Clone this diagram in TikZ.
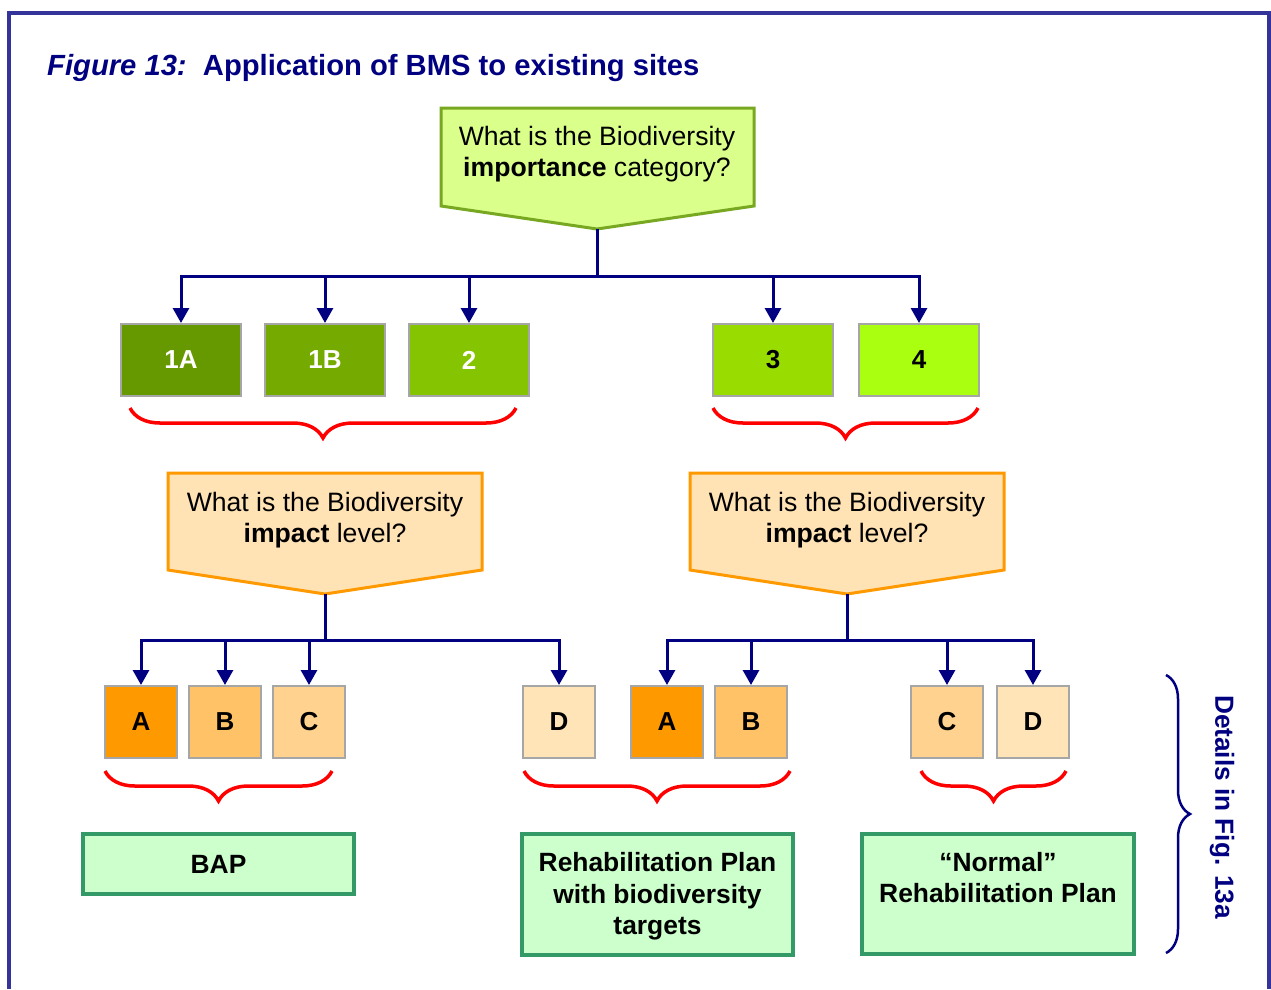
\documentclass[tikz,border=0pt]{standalone}
\usepackage{fontspec}
\setmainfont{Liberation Sans}
\usetikzlibrary{arrows.meta,decorations.pathreplacing}
\definecolor{framec}{HTML}{333399}
\definecolor{navyc}{HTML}{000080}
\definecolor{boxgray}{HTML}{A6A6A6}
\definecolor{c1a}{HTML}{669900}
\definecolor{c1b}{HTML}{75AA00}
\definecolor{c2}{HTML}{84C400}
\definecolor{c3}{HTML}{99DD00}
\definecolor{c4}{HTML}{AAFF11}
\definecolor{oa}{HTML}{FF9900}
\definecolor{ob}{HTML}{FFC266}
\definecolor{oc}{HTML}{FFD38F}
\definecolor{od}{HTML}{FFE4B8}
\definecolor{limefill}{HTML}{DAFF8A}
\definecolor{limedraw}{HTML}{78A822}
\definecolor{orfill}{HTML}{FFE3B5}
\definecolor{ordraw}{HTML}{FF9900}
\definecolor{planfill}{HTML}{CCFFCC}
\definecolor{plandraw}{HTML}{339966}
\begin{document}
\begin{tikzpicture}[x=1pt,y=-1pt,
  txt/.style={font=\fontsize{26.6}{31}\selectfont},
  cat/.style={draw=boxgray, line width=2pt, minimum width=120pt, minimum height=72pt, inner sep=0pt, font=\fontsize{26}{31}\selectfont\bfseries},
  lvl/.style={cat, minimum width=72pt},
  plan/.style={draw=plandraw, fill=planfill, line width=3.5pt, minimum width=271pt, inner sep=0pt},
  plantext/.style={inner sep=0pt, align=center, font=\fontsize{26.4}{31.5}\selectfont\bfseries},
  conn/.style={draw=navyc, line width=3pt},
  arr/.style={conn, -{Triangle[width=16pt,length=15pt]}},
  rbrace/.style={draw=red, line width=3.5pt, decorate, decoration={brace, amplitude=30pt, mirror}},
  ask/.style={txt, align=center, inner sep=0pt}
]
\useasboundingbox (0,0) rectangle (1271,989);
% frame
\draw[framec, line width=4pt] (9,989) -- (9,13) -- (1269,13) -- (1269,989);
% title
\node[anchor=base west, inner sep=0pt, text=navyc, font=\fontsize{29.2}{34}\selectfont\bfseries] (title) at (47,75) {\textit{Figure 13:}\ \ Application of BMS to existing sites};

% top question
\draw[draw=limedraw, fill=limefill, line width=3pt, line join=miter] (441,108) -- (754,108) -- (754,206) -- (597,229) -- (441,206) -- cycle;
\coordinate (q1tip) at (597,229);
\node[ask] (q1) at (597,154) {What is the Biodiversity\\\textbf{importance} category?};

% categories
\node[cat, fill=c1a, text=white] (k1A) at (181,360) {1A};
\node[cat, fill=c1b, text=white] (k1B) at (325,360) {1B};
\node[cat, fill=c2, text=white] (k2) at (469,360) {2};
\node[cat, fill=c3] (k3) at (773,360) {3};
\node[cat, fill=c4] (k4) at (919,360) {4};

\coordinate (bus1) at (597,276);
\draw[conn] (q1tip) -- (bus1);
\foreach \n in {k1A,k1B,k2,k3,k4} \draw[arr] (bus1) -| (\n.north);

% red braces top
\draw[rbrace] (130,408) -- (516,408);
\draw[rbrace] (713,408) -- (978,408);

% impact questions
\draw[draw=ordraw, fill=orfill, line width=3pt] (168,473) -- (482,473) -- (482,570) -- (325,594) -- (168,570) -- cycle;
\coordinate (q2tip) at (325,594);
\node[ask] (q2) at (325,520) {What is the Biodiversity\\\textbf{impact} level?};
\draw[draw=ordraw, fill=orfill, line width=3pt] (690,473) -- (1004,473) -- (1004,570) -- (847,594) -- (690,570) -- cycle;
\coordinate (q3tip) at (847,594);
\node[ask] (q3) at (847,520) {What is the Biodiversity\\\textbf{impact} level?};

% levels
\node[lvl, fill=oa] (lA) at (141,722) {A};
\node[lvl, fill=ob] (lB) at (225,722) {B};
\node[lvl, fill=oc] (lC) at (309,722) {C};
\node[lvl, fill=od] (lD) at (559,722) {D};
\node[lvl, fill=oa] (rA) at (667,722) {A};
\node[lvl, fill=ob] (rB) at (751,722) {B};
\node[lvl, fill=oc] (rC) at (947,722) {C};
\node[lvl, fill=od] (rD) at (1033,722) {D};

\coordinate (bus2) at (325,640);
\draw[conn] (q2tip) -- (bus2);
\foreach \n in {lA,lB,lC,lD} \draw[arr] (bus2) -| (\n.north);
\coordinate (bus3) at (847,640);
\draw[conn] (q3tip) -- (bus3);
\foreach \n in {rA,rB,rC,rD} \draw[arr] (bus3) -| (\n.north);

% red braces bottom
\draw[rbrace] (105,771) -- (332,771);
\draw[rbrace] (524,771) -- (790,771);
\draw[rbrace] (921,771) -- (1066,771);

% plans
\node[plan, minimum height=60pt] (bap) at (218.5,864) {};
\node[plantext] (baptext) at (218.5,864) {BAP};
\node[plan, minimum height=121pt] (rehab) at (657.5,894.5) {};
\node[plantext] (rehabtext) at (657.5,896.5) {Rehabilitation Plan\\with biodiversity\\targets};
\node[plan, minimum width=272pt, minimum height=120pt] (normal) at (998,894) {};
\node[plantext] (normaltext) at (998,877.5) {“Normal”\\Rehabilitation Plan};

% details brace
\draw[draw=navyc, line width=2.5pt, decorate, decoration={brace, amplitude=24pt}] (1166,675) -- (1166,953);
\node[rotate=-90, inner sep=0pt, text=navyc, font=\fontsize{26.2}{31}\selectfont\bfseries] (det) at (1222,807) {Details in Fig. 13a};
\end{tikzpicture}
\end{document}
